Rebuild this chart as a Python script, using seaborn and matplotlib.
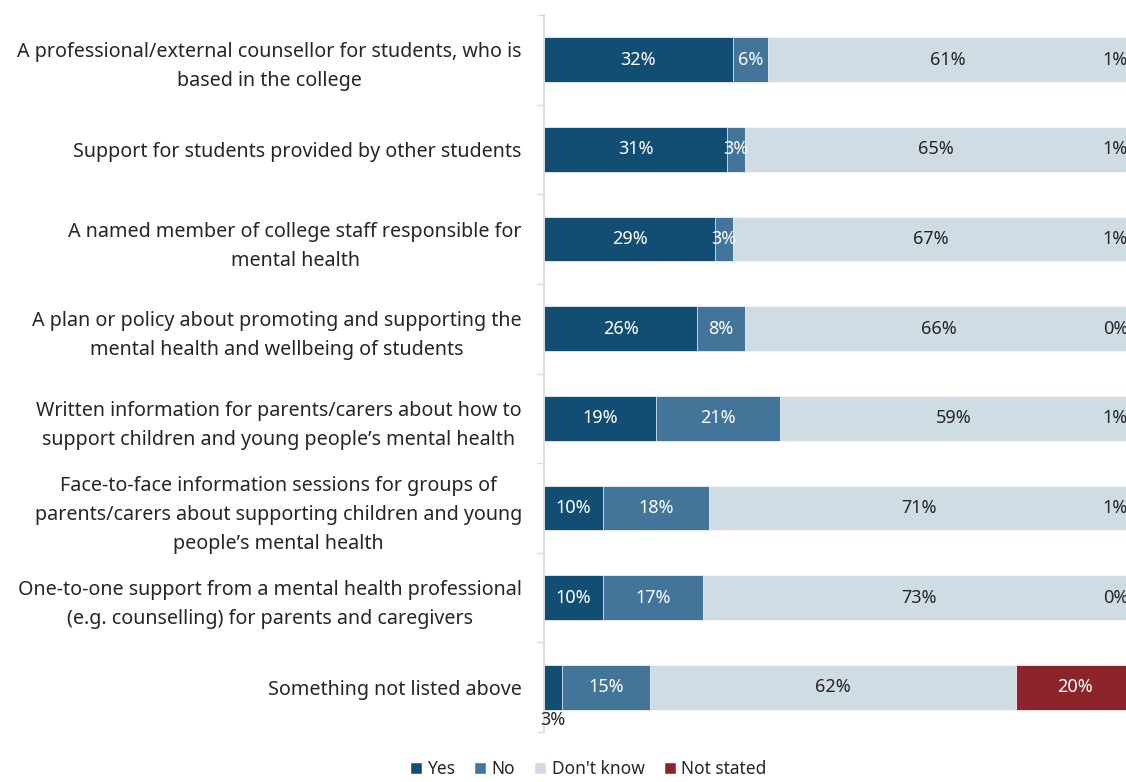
import numpy as np
import pandas as pd
import matplotlib.pyplot as plt
from matplotlib.patches import Patch
import seaborn as sns

categories = [
    "A professional/external counsellor for students, who is\nbased in the college",
    "Support for students provided by other students",
    "A named member of college staff responsible for\nmental health",
    "A plan or policy about promoting and supporting the\nmental health and wellbeing of students",
    "Written information for parents/carers about how to\nsupport children and young people\u2019s mental health",
    "Face-to-face information sessions for groups of\nparents/carers about supporting children and young\npeople\u2019s mental health",
    "One-to-one support from a mental health professional\n(e.g. counselling) for parents and caregivers",
    "Something not listed above",
]
yes = [32, 31, 29, 26, 19, 10, 10, 3]
no = [6, 3, 3, 8, 21, 18, 17, 15]
dont_know = [61, 65, 67, 66, 59, 71, 73, 62]
not_stated = [1, 1, 1, 0, 1, 1, 0, 20]

series = ["Yes", "No", "Don't know", "Not stated"]
colors = ["#124e73", "#43749a", "#d0dce4", "#8b2529"]
text_colors = ["white", "white", "#262626", "white"]

sns.set_theme(style="white")
plt.rcParams["font.family"] = ["Noto Sans", "DejaVu Sans"]

df = pd.DataFrame({"category": categories, "Yes": yes, "No": no,
                   "Don't know": dont_know, "Not stated": not_stated})
values = df[series].to_numpy()
cum = values.cumsum(axis=1)

fig = plt.figure(figsize=(11.26, 7.82), dpi=100)
ax = fig.add_axes([544 / 1126, 50 / 782, 590 / 1126, 717 / 782])

# stacked bars: draw cumulative totals from the back to the front
for i in reversed(range(len(series))):
    sns.barplot(x=cum[:, i], y=df["category"], orient="h", color=colors[i],
                saturation=1, width=0.5, ax=ax, edgecolor="white", linewidth=0.5)

for j in range(len(categories)):
    for i in range(len(series)):
        v = values[j, i]
        if i == 3 and v <= 1:
            ax.text(cum[j, i] - 1, j, f"{v}%", ha="right", va="center",
                    color="#262626", fontsize=13)
        elif i == 0 and v < 5:
            ax.text(cum[j, i] - v / 2, j + 0.37, f"{v}%", ha="center", va="center",
                    color="#262626", fontsize=13)
        else:
            ax.text(cum[j, i] - v / 2, j, f"{v}%", ha="center", va="center",
                    color=text_colors[i], fontsize=13)

ax.set_xlim(0, 100)
ax.set_ylim(len(categories) - 0.5, -0.5)
ax.set_xticks([])
ax.set_xlabel("")
ax.set_ylabel("")
ax.set_yticks(range(len(categories)))
ax.set_yticklabels(categories, fontsize=14.2, color="#262626")
for t in ax.get_yticklabels():
    t.set_multialignment("center")
    t.set_linespacing(1.6)
ax.set_yticks(np.arange(-0.5, len(categories), 1), minor=True)
ax.tick_params(axis="y", which="major", length=0, pad=16)
ax.tick_params(axis="y", which="minor", length=5, color="#d9d9d9", width=1, left=True)
for s in ["top", "right", "bottom"]:
    ax.spines[s].set_visible(False)
ax.spines["left"].set_color("#d9d9d9")

handles = [Patch(facecolor=c, label=s) for c, s in zip(colors, series)]
fig.legend(handles=handles, loc="center", bbox_to_anchor=(588 / 1126, 13 / 782),
           ncol=4, frameon=False, fontsize=12.5, handlelength=0.7, handleheight=0.7,
           handletextpad=0.3, columnspacing=1.1, borderpad=0.2)

fig.savefig("out.png", dpi=100)
